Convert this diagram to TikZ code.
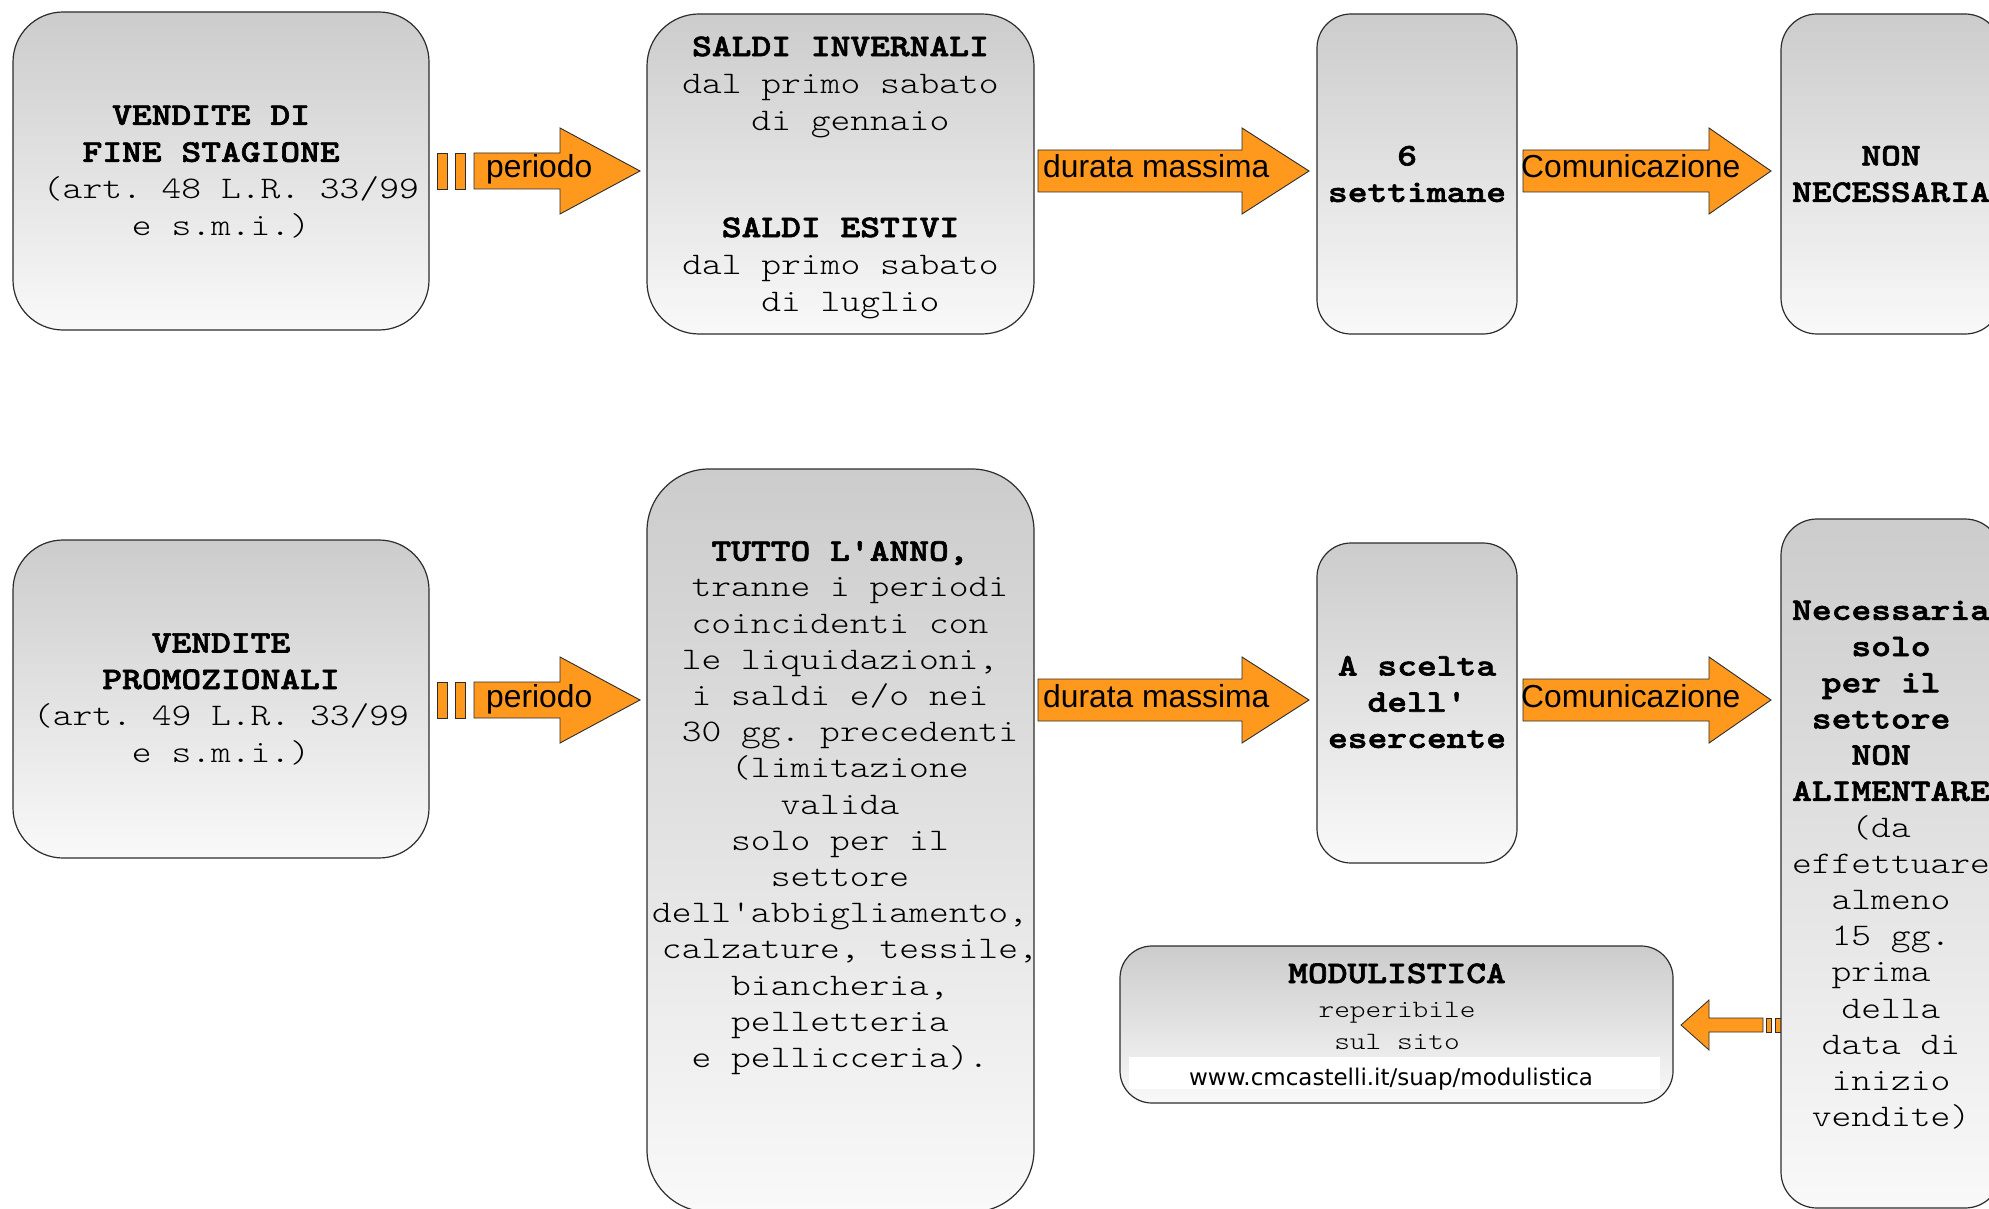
\documentclass[tikz,border=0pt]{standalone}
\usepackage{fontspec}
\setmonofont{Latin Modern Mono Light}[FakeStretch=1.2, BoldFeatures={FakeBold=2}]
\newfontfamily\arialf{Liberation Sans}
\newfontfamily\urlf{DejaVu Sans}
\definecolor{gTop}{RGB}{204,204,204}
\definecolor{gBot}{RGB}{249,249,249}
\definecolor{orng}{RGB}{255,153,30}
\definecolor{edgec}{RGB}{45,45,45}
\newcommand\gap{\hphantom{x}}
\tikzset{
  box/.style={draw=edgec, line width=1.2pt, top color=gTop, bottom color=gBot,
    inner sep=0pt, align=center, font=\fontsize{31.4}{36.5}\selectfont\ttfamily},
  txt/.style={inner sep=0pt, align=center, font=\fontsize{31.4}{36.2}\selectfont\ttfamily},
  blk/.style={fill=orng, draw=edgec, line width=0.9pt, line join=miter},
  albl/.style={inner sep=0pt, anchor=base west, font=\fontsize{31.8}{32}\selectfont\arialf},
}
\begin{document}
\begin{tikzpicture}[x=1pt,y=-1pt]
\useasboundingbox (0,0) rectangle (1989,1209);
\clip (0,0) rectangle (1989,1209);
\fill[white] (0,0) rectangle (1989,1209);

% ---------- block arrows, top row (cy = 171)
\draw[blk] (437,153) rectangle (447,189);
\draw[blk] (455,153) rectangle (465,189);
\draw[blk] (474,153) -- (560,153) -- (560,128) -- (640,171) -- (560,214) -- (560,189) -- (474,189) -- cycle;
\node[albl] (l1) at (486,178) {periodo};
\draw[blk] (1038,150) -- (1242,150) -- (1242,128) -- (1309,171) -- (1242,214) -- (1242,192) -- (1038,192) -- cycle;
\node[albl] (l2) at (1043,178) {durata massima};
\draw[blk] (1523,150) -- (1709,150) -- (1709,128) -- (1771,171) -- (1709,214) -- (1709,192) -- (1523,192) -- cycle;
\node[albl] (l3) at (1521,178) {Comunicazione};

% ---------- block arrows, bottom row (cy = 700)
\draw[blk] (437,682) rectangle (447,718);
\draw[blk] (455,682) rectangle (465,718);
\draw[blk] (474,682) -- (560,682) -- (560,657) -- (640,700) -- (560,743) -- (560,718) -- (474,718) -- cycle;
\node[albl] (l4) at (486,707) {periodo};
\draw[blk] (1038,679) -- (1242,679) -- (1242,657) -- (1309,700) -- (1242,743) -- (1242,721) -- (1038,721) -- cycle;
\node[albl] (l5) at (1043,707) {durata massima};
\draw[blk] (1523,679) -- (1709,679) -- (1709,657) -- (1771,700) -- (1709,743) -- (1709,721) -- (1523,721) -- cycle;
\node[albl] (l6) at (1521,707) {Comunicazione};

% ---------- small left arrow
\draw[blk, line width=0.8pt] (1766,1018) rectangle (1771,1032);
\draw[blk, line width=0.8pt] (1775,1018) rectangle (1781,1032);
\draw[blk, line width=0.8pt] (1763,1018) -- (1709,1018) -- (1709,1000) -- (1681,1025) -- (1709,1050) -- (1709,1032) -- (1763,1032) -- cycle;

% ---------- boxes, top row
\node[box, minimum width=416pt, minimum height=318pt, rounded corners=50pt] (b1) at (221,171) {};
\node[txt, font=\fontsize{31.4}{37}\selectfont\ttfamily] (t1) at (221,172)
  {\textbf{VENDITE DI}\gap\\ \textbf{FINE STAGIONE}\gap\\ \gap(art. 48 L.R. 33/99\\ e s.m.i.)};
\node[box, minimum width=387pt, minimum height=320pt, rounded corners=52pt] (b2) at (840.5,174) {};
\node[txt, font=\fontsize{31.4}{37}\selectfont\ttfamily] (t2) at (840.5,177.5)
  {\textbf{SALDI INVERNALI}\\ dal primo sabato\\ \gap di gennaio\\[70pt] \textbf{SALDI ESTIVI}\\ dal primo sabato\\ \gap di luglio};
\node[box, minimum width=200pt, minimum height=320pt, rounded corners=34pt] (b3) at (1417,174)
  {\textbf{6}\gap\\ \textbf{settimane}};
\node[box, minimum width=220pt, minimum height=320pt, rounded corners=36pt] (b4) at (1891,174)
  {\textbf{NON}\\ \textbf{NECESSARIA}};

% ---------- boxes, bottom row
\node[box, minimum width=416pt, minimum height=318pt, rounded corners=50pt] (b5) at (221,699)
  {\textbf{VENDITE}\\ \textbf{PROMOZIONALI}\\ (art. 49 L.R. 33/99\\ e s.m.i.)};
\node[box, minimum width=387pt, minimum height=743pt, rounded corners=62pt] (b6) at (840.5,840.5) {};
\node[txt] (t6) at (840,808)
  {\textbf{TUTTO L'ANNO,}\\ \gap tranne i periodi\\ coincidenti con\\ le liquidazioni,\\ i saldi e/o nei\\ \gap 30 gg. precedenti\\ \gap(limitazione\\ valida\\ solo per il\\ settore\\ dell'abbigliamento,\\ \gap calzature, tessile,\\ biancheria,\\ pelletteria\\ e pellicceria).};
\node[box, minimum width=200pt, minimum height=320pt, rounded corners=34pt] (b7) at (1417,703) {};
\node[txt] (t7) at (1417,702)
  {\textbf{A scelta}\\ \textbf{dell'}\\ \textbf{esercente}};
\node[box, minimum width=220pt, minimum height=689pt, rounded corners=36pt] (b8) at (1891,863.5) {};
\node[txt] (t8) at (1891,865)
  {\textbf{Necessaria}\\ \textbf{solo}\\ \textbf{per il}\gap\\ \textbf{settore}\gap\\ \textbf{NON}\gap\\ \textbf{ALIMENTARE}\\ (da\gap\\ effettuare\\ almeno\\ 15 gg.\\ prima\gap\\ della\\ data di\\ inizio\\ vendite)};

% ---------- modulistica
\node[box, minimum width=553pt, minimum height=157pt, rounded corners=32pt] (bm) at (1396.5,1024.5) {};
\fill[white] (1129,1057) rectangle (1660,1089);
\node[txt, anchor=base] (m1) at (1397,983) {\textbf{MODULISTICA}};
\node[txt, anchor=base, font=\fontsize{24.9}{30}\selectfont\ttfamily] (m2) at (1397,1017) {reperibile};
\node[txt, anchor=base, font=\fontsize{24.9}{30}\selectfont\ttfamily] (m3) at (1397,1049) {sul sito};
\node[txt, anchor=base, font=\fontsize{23}{27}\selectfont\urlf] (m4) at (1391,1085) {www.cmcastelli.it/suap/modulistica};
\end{tikzpicture}
\end{document}
